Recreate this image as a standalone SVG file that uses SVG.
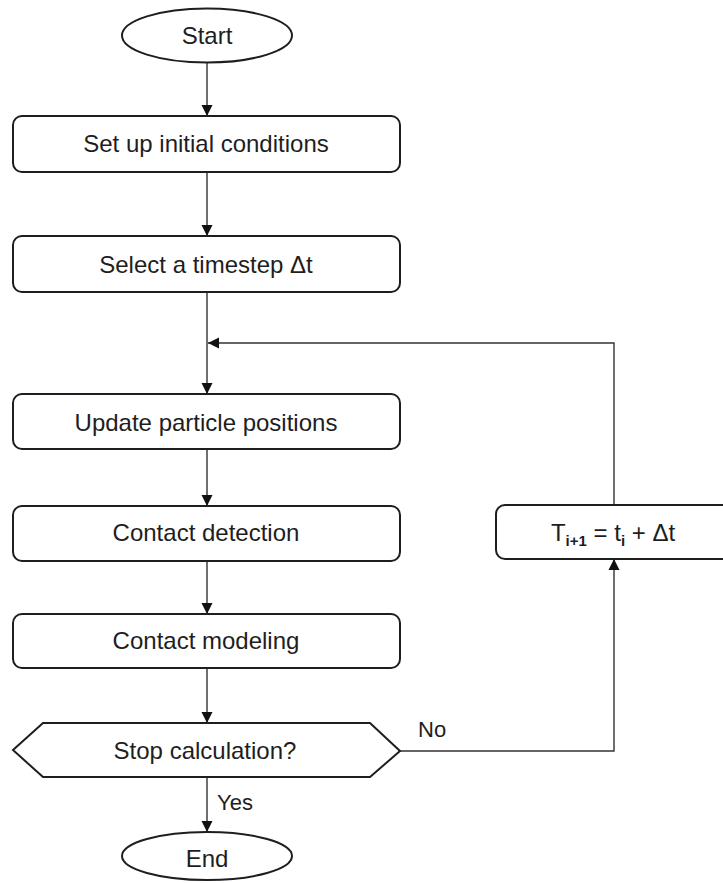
<svg xmlns="http://www.w3.org/2000/svg" width="723" height="883" viewBox="0 0 723 883">
<defs>
<style>
.shape{fill:#fff;stroke:#1e1e1e;stroke-width:2}
.t{font-family:"Liberation Sans",Arial,sans-serif;font-size:24px;fill:#1e1e1e;text-anchor:middle}
.lbl{font-family:"Liberation Sans",Arial,sans-serif;font-size:22px;fill:#1e1e1e}
.c{fill:none;stroke:#333;stroke-width:1.4}
</style>
<marker id="ah" markerWidth="12" markerHeight="12" refX="11" refY="6" orient="auto" markerUnits="userSpaceOnUse">
<path d="M0,0.5 L11,6 L0,11.5 Z" fill="#111"/>
</marker>
</defs>
<rect width="723" height="883" fill="#fff"/>
<g id="connectors">
<line class="c" x1="207" y1="63" x2="207" y2="116" marker-end="url(#ah)"/>
<line class="c" x1="207" y1="172" x2="207" y2="236" marker-end="url(#ah)"/>
<line class="c" x1="207" y1="292" x2="207" y2="394" marker-end="url(#ah)"/>
<line class="c" x1="207" y1="449" x2="207" y2="506" marker-end="url(#ah)"/>
<line class="c" x1="207" y1="561" x2="207" y2="614" marker-end="url(#ah)"/>
<line class="c" x1="207" y1="668" x2="207" y2="723" marker-end="url(#ah)"/>
<line class="c" x1="207" y1="777" x2="207" y2="832" marker-end="url(#ah)"/>
<polyline class="c" points="400,751 614,751 614,559" marker-end="url(#ah)"/>
<polyline class="c" points="614,505 614,343 208,343" marker-end="url(#ah)"/>
<text class="lbl" x="217" y="810">Yes</text>
<text class="lbl" x="418" y="737">No</text>
</g>
<g id="start">
<ellipse class="shape" cx="207" cy="35.5" rx="85" ry="27"/>
<text class="t" x="207" y="44">Start</text>
</g>
<g id="init">
<rect class="shape" x="13" y="116" width="387" height="56" rx="9"/>
<text class="t" x="206" y="152">Set up initial conditions</text>
</g>
<g id="timestep">
<rect class="shape" x="13" y="236" width="387" height="56" rx="9"/>
<text class="t" x="206" y="273">Select a timestep Δt</text>
</g>
<g id="update">
<rect class="shape" x="13" y="394" width="387" height="55" rx="9"/>
<text class="t" x="206" y="431">Update particle positions</text>
</g>
<g id="detect">
<rect class="shape" x="13" y="506" width="387" height="55" rx="9"/>
<text class="t" x="206" y="541">Contact detection</text>
</g>
<g id="model">
<rect class="shape" x="13" y="614" width="387" height="54" rx="9"/>
<text class="t" x="206" y="649">Contact modeling</text>
</g>
<g id="stop">
<polygon class="shape" points="13,750 43,723 370,723 400,751 370,777 43,777"/>
<text class="t" x="205" y="759">Stop calculation?</text>
</g>
<g id="end">
<ellipse class="shape" cx="207" cy="856" rx="85" ry="24"/>
<text class="t" x="207" y="867">End</text>
</g>
<g id="increment">
<rect class="shape" x="496" y="505" width="236" height="54" rx="9"/>
<text class="t" x="613" y="541">T<tspan font-size="15" font-weight="bold" dy="5">i+1</tspan><tspan dy="-5"> = t</tspan><tspan font-size="15" font-weight="bold" dy="5">i</tspan><tspan dy="-5"> + Δt</tspan></text>
</g>
</svg>
